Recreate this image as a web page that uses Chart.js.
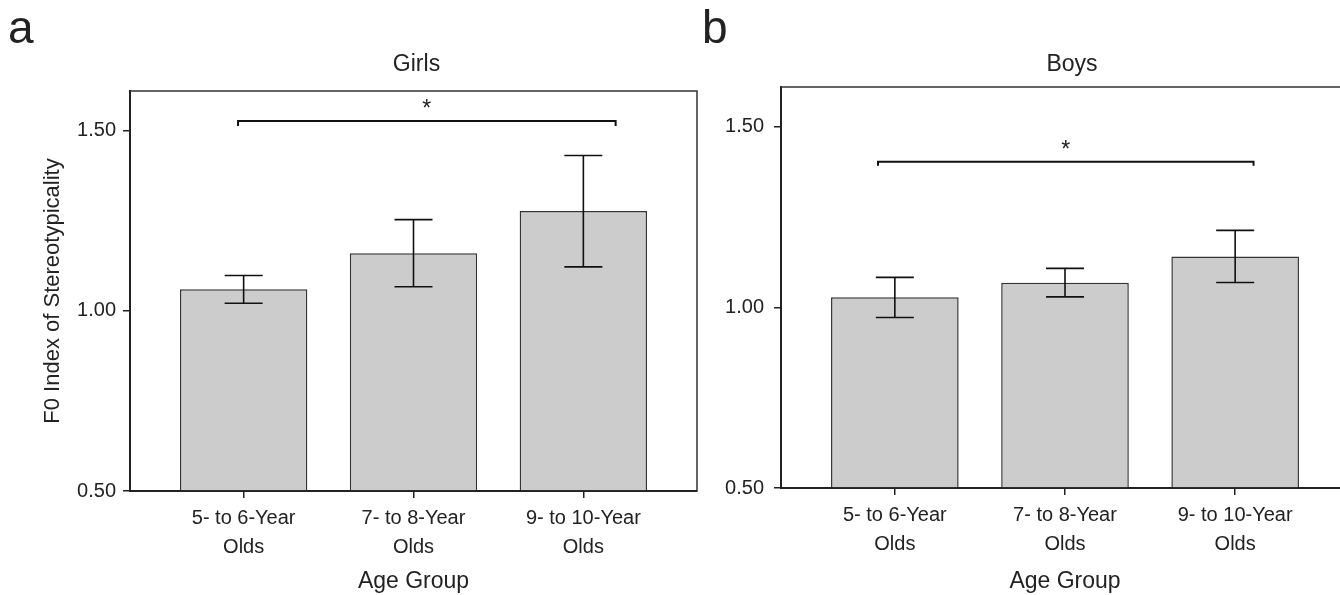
<!DOCTYPE html>
<html>
<head>
<meta charset="utf-8">
<script src="https://cdn.jsdelivr.net/npm/chart.js@4.4.0/dist/chart.umd.min.js"></script>
<style>
    html, body { margin: 0; padding: 0; width: 1340px; height: 595px; overflow: hidden; background: #fff; }
    .panel { position: absolute; top: 0; }
    #panelA { left: 0; }
    #panelB { left: 700px; }
</style>
</head>
<body>
<div class="panel" id="panelA"><canvas id="chartGirls" width="700" height="595"></canvas></div>
<div class="panel" id="panelB"><canvas id="chartBoys" width="660" height="595"></canvas></div>
<script>
// categorias do eixo x (duas linhas cada)
const ageGroups = [["5- to 6-Year", "Olds"], ["7- to 8-Year", "Olds"], ["9- to 10-Year", "Olds"]];
const yTicks = [0.5, 1.0, 1.5];

// Girls
const girlsMean = [1.060, 1.160, 1.277];
const girlsLow = [1.021, 1.067, 1.122];
const girlsHigh = [1.098, 1.253, 1.431];
const girlsBracketX = [-0.033, 2.19];
const girlsBracketY = [1.527, 1.513];

// Boys
const boysMean = [1.028, 1.068, 1.141];
const boysLow = [0.972, 1.029, 1.069];
const boysHigh = [1.083, 1.108, 1.213];
const boysBracketX = [-0.099, 2.108];
const boysBracketY = [1.403, 1.392];

const INK = "#222";
Chart.defaults.font.family = '"Liberation Sans", Arial, sans-serif';
Chart.defaults.color = INK;

// moldura, barras de erro, colchete de significância e títulos
const panelPlugin = {
    id: "panelExtras",
    afterDatasetsDraw(chart, args, opts) {
        const { ctx, chartArea } = chart;
        const xs = chart.scales.x, ys = chart.scales.y;
        ctx.save();

        // barras de erro
        ctx.strokeStyle = "#111";
        ctx.lineWidth = 1.6;
        chart.getDatasetMeta(0).data.forEach((bar, i) => {
            const yHi = ys.getPixelForValue(opts.high[i]);
            const yLo = ys.getPixelForValue(opts.low[i]);
            ctx.beginPath();
            ctx.moveTo(bar.x, yHi); ctx.lineTo(bar.x, yLo);
            ctx.moveTo(bar.x - 19, yHi); ctx.lineTo(bar.x + 19, yHi);
            ctx.moveTo(bar.x - 19, yLo); ctx.lineTo(bar.x + 19, yLo);
            ctx.stroke();
        });

        // colchete
        const bx1 = xs.getPixelForValue(opts.bracketX[0]);
        const bx2 = xs.getPixelForValue(opts.bracketX[1]);
        const by = ys.getPixelForValue(opts.bracketY[0]);
        const byFoot = ys.getPixelForValue(opts.bracketY[1]);
        ctx.lineWidth = 2;
        ctx.beginPath();
        ctx.moveTo(bx1, byFoot); ctx.lineTo(bx1, by); ctx.lineTo(bx2, by); ctx.lineTo(bx2, byFoot);
        ctx.stroke();
        ctx.fillStyle = INK;
        ctx.font = '23px "Liberation Sans", Arial, sans-serif';
        ctx.textAlign = "center";
        ctx.textBaseline = "alphabetic";
        ctx.fillText("*", (bx1 + bx2) / 2, by - 5);

        // moldura (topo e direita)
        ctx.strokeStyle = "#333";
        ctx.lineWidth = 1.5;
        ctx.beginPath();
        ctx.moveTo(chartArea.left, chartArea.top);
        ctx.lineTo(chartArea.right, chartArea.top);
        ctx.lineTo(chartArea.right, chartArea.bottom);
        ctx.stroke();

        // título do painel
        ctx.font = '23px "Liberation Sans", Arial, sans-serif';
        ctx.textBaseline = "middle";
        ctx.fillText(opts.title, (chartArea.left + chartArea.right) / 2 + opts.titleShift, 65);

        // letra do painel
        ctx.font = '46px "Liberation Sans", Arial, sans-serif';
        ctx.textAlign = "left";
        ctx.textBaseline = "alphabetic";
        ctx.fillText(opts.letter, opts.letterX, 43);
        ctx.restore();
    }
};

function criarGrafico(canvasId, cfg) {
    const ctx = document.getElementById(canvasId).getContext("2d");
    return new Chart(ctx, {
        type: "bar",
        data: {
            datasets: [{
                data: cfg.mean.map((m, i) => ({ x: i, y: m })),
                backgroundColor: "#cccccc",
                borderColor: "#333",
                borderWidth: 1.5,
                base: 0.5,
                categoryPercentage: 1,
                barPercentage: 0.75
            }]
        },
        options: {
            responsive: false,
            animation: false,
            layout: { padding: { left: 0, right: cfg.padRight, top: cfg.top, bottom: 0 } },
            plugins: {
                legend: { display: false },
                tooltip: { enabled: false },
                panelExtras: {
                    low: cfg.low, high: cfg.high,
                    bracketX: cfg.bracketX, bracketY: cfg.bracketY,
                    title: cfg.title, titleShift: cfg.titleShift,
                    letter: cfg.letter, letterX: cfg.letterX
                }
            },
            scales: {
                x: {
                    type: "linear",
                    offset: false,
                    min: -0.669,
                    max: 2.669,
                    afterBuildTicks: axis => { axis.ticks = ageGroups.map((g, i) => ({ value: i })); },
                    afterFit: scale => { scale.height = cfg.xHeight; },
                    ticks: {
                        autoSkip: false,
                        maxRotation: 0,
                        padding: 6,
                        font: { size: 20, lineHeight: 1.45 },
                        callback: v => ageGroups[v]
                    },
                    grid: { display: true, offset: false, drawOnChartArea: false, drawTicks: true, tickLength: 7, color: INK, lineWidth: 1.5 },
                    border: { display: true, color: INK, width: 2 },
                    title: { display: true, text: "Age Group", font: { size: 23, lineHeight: 1.1 }, padding: { top: 0, bottom: 1 } }
                },
                y: {
                    min: 0.5,
                    max: 1.61,
                    afterBuildTicks: axis => { axis.ticks = yTicks.map(v => ({ value: v })); },
                    afterFit: scale => { scale.width = cfg.yWidth; },
                    ticks: { padding: cfg.yPad, font: { size: 20 }, callback: v => v.toFixed(2) },
                    grid: { display: true, drawOnChartArea: false, drawTicks: true, tickLength: 7, color: INK, lineWidth: 1.5 },
                    border: { display: true, color: INK, width: 2 },
                    title: { display: cfg.yTitle !== "", text: cfg.yTitle, font: { size: 22 }, padding: { top: 40, bottom: 0 } }
                }
            }
        },
        plugins: [panelPlugin]
    });
}

criarGrafico("chartGirls", {
    mean: girlsMean, low: girlsLow, high: girlsHigh,
    bracketX: girlsBracketX, bracketY: girlsBracketY,
    title: "Girls", titleShift: 3, letter: "a", letterX: 8,
    yTitle: "F0 Index of Stereotypicality",
    top: 91, padRight: 3, yWidth: 130, xHeight: 104, yPad: 7
});

criarGrafico("chartBoys", {
    mean: boysMean, low: boysLow, high: boysHigh,
    bracketX: boysBracketX, bracketY: boysBracketY,
    title: "Boys", titleShift: 7, letter: "b", letterX: 2,
    yTitle: "",
    top: 87, padRight: 11, yWidth: 81, xHeight: 107, yPad: 10
});
</script>
</body>
</html>
